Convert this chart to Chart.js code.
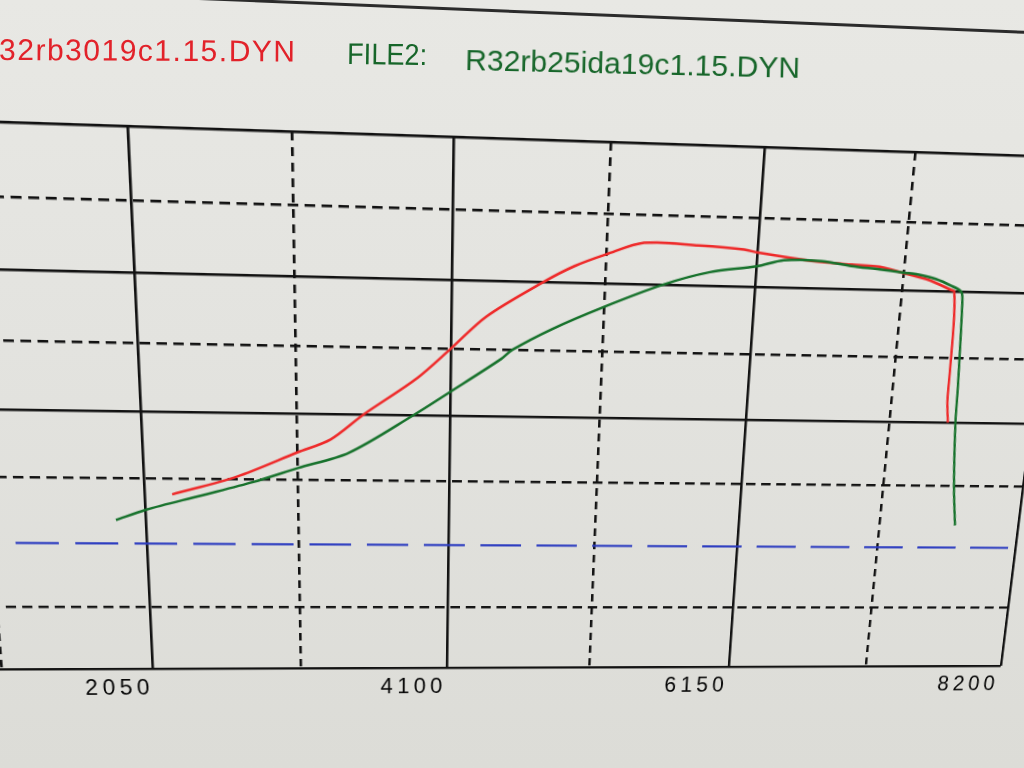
<!DOCTYPE html>
<html>
<head>
<meta charset="utf-8">
<script src="https://cdn.jsdelivr.net/npm/chart.js@4.4.1/dist/chart.umd.min.js"></script>
<style>
html,body{margin:0;padding:0;}
body{width:1024px;height:768px;overflow:hidden;position:relative;
  background:linear-gradient(180deg,#e8e8e4 0%,#e3e3df 45%,#dcdcd7 100%);
  font-family:"Liberation Sans","DejaVu Sans",Arial,sans-serif;}
#wrap{position:absolute;left:0;top:0;transform-origin:0 0;}
#wrap canvas{display:block;}
.hdr{position:absolute;white-space:nowrap;font-size:30px;line-height:30px;display:inline-block;}
#frame{position:absolute;left:150px;top:-5px;width:920px;height:3px;background:#2b2b2b;
  transform-origin:0 50%;transform:rotate(2.34deg);}
</style>
</head>
<body>
<div id="frame"></div>
<div id="wrap"><canvas id="c" width="1280" height="740"></canvas></div>
<div class="hdr" id="h1" style="color:#e2222a"></div>
<div class="hdr" id="h2" style="color:#17662a"></div>
<div class="hdr" id="h3" style="color:#17662a"></div>
<script>
// ---- data ----
const file1Name = '32rb3019c1.15.DYN';
const file2Label = 'FILE2:';
const file2Name = 'R32rb25ida19c1.15.DYN';

const rpmTickLabels = [2050, 4100, 6150, 8200];

const file1Rpm   = [2230, 2665, 3075, 3296, 3517, 3879, 4100, 4334, 4711, 4916, 5125, 5375, 5745, 6056, 6150, 6525, 6803, 7000, 7160, 7354, 7519, 7540, 7560, 7570, 7575, 7595];
const file1Power = [138, 152, 171, 181, 200, 228, 250, 274, 300, 312, 321, 330, 329, 327, 325, 320, 318, 317, 313, 308, 301, 300, 278, 240, 217, 200];

const file2Rpm   = [1850, 2050, 2412, 2774, 3075, 3417, 3852, 4100, 4439, 4514, 4781, 5125, 5516, 5833, 6150, 6334, 6595, 6803, 7000, 7175, 7270, 7400, 7520, 7590, 7605, 7640, 7650, 7690, 7730];
const file2Power = [118, 126, 137, 148, 159, 171, 200, 218, 243, 250, 266, 283, 300, 310, 315, 320, 320, 317, 315, 313, 312, 309, 304, 300, 293, 227, 200, 150, 118];

const refRpm   = [0, 8200];
const refValue = [100, 100];

const rpmMin = 0, rpmMax = 8200, rpmStep = 1025;
const valMin = 0, valMax = 400, valStep = 50;

// ---- build chart ----
const pts = (xs, ys) => xs.map((x, i) => ({x: x, y: ys[i]}));
const GRID = '#121212';
const NONE = 'rgba(0,0,0,0)';
const isMajorX = v => Math.round(v) % 2050 === 0;
const isSolidY = v => [0, 200, 300, 400].includes(Math.round(v));
const isDashY = v => [50, 150, 250, 350].includes(Math.round(v));

const spacingPlugin = {
  id: 'spacing',
  beforeDraw(chart) { try { chart.ctx.letterSpacing = '4.5px'; } catch (e) {} }
};

const chart = new Chart(document.getElementById('c'), {
  type: 'line',
  data: {
    datasets: [
      {label: 'ref', data: pts(refRpm, refValue), borderColor: '#2c3cc0', borderWidth: 2.2, borderDash: [42, 16], pointRadius: 0, xAxisID: 'x', yAxisID: 'y'},
      {label: 'FILE2', data: pts(file2Rpm, file2Power), borderColor: '#17722c', borderWidth: 2.5, pointRadius: 0, tension: 0.3, xAxisID: 'x', yAxisID: 'y'},
      {label: 'FILE1', data: pts(file1Rpm, file1Power), borderColor: '#ee2a2a', borderWidth: 2.5, pointRadius: 0, tension: 0.3, xAxisID: 'x', yAxisID: 'y'}
    ]
  },
  options: {
    responsive: false,
    devicePixelRatio: 1,
    animation: false,
    layout: {padding: {left: 30, right: 40, top: 140, bottom: 30}},
    plugins: {legend: {display: false}, tooltip: {enabled: false}, title: {display: false}},
    scales: {
      x: {
        type: 'linear', min: rpmMin, max: rpmMax, position: 'bottom',
        grid: {color: c => (c.tick && isMajorX(c.tick.value)) ? GRID : NONE, lineWidth: 2.6, drawTicks: false},
        border: {display: false},
        ticks: {
          stepSize: rpmStep, autoSkip: false, maxRotation: 0, minRotation: 0, align: 'end', padding: 7,
          color: '#050505', font: {family: '"Liberation Sans","DejaVu Sans",Arial,sans-serif', size: 23},
          callback: v => rpmTickLabels.includes(Math.round(v)) ? String(Math.round(v)) : ''
        }
      },
      x2: {
        type: 'linear', min: rpmMin, max: rpmMax, position: 'bottom',
        grid: {color: c => (c.tick && !isMajorX(c.tick.value)) ? GRID : NONE, lineWidth: 2.6, drawTicks: false},
        border: {display: false, dash: [8, 6]},
        ticks: {display: false, stepSize: rpmStep}
      },
      y: {
        type: 'linear', min: valMin, max: valMax, position: 'left',
        grid: {color: c => (c.tick && isSolidY(c.tick.value)) ? GRID : NONE, lineWidth: 2.6, drawTicks: false},
        border: {display: false},
        ticks: {display: false, stepSize: valStep}
      },
      y2: {
        type: 'linear', min: valMin, max: valMax, position: 'left',
        grid: {color: c => (c.tick && isDashY(c.tick.value)) ? GRID : NONE, lineWidth: 2.6, drawTicks: false},
        border: {display: false, dash: [10, 6]},
        ticks: {display: false, stepSize: valStep}
      }
    }
  },
  plugins: [spacingPlugin]
});

// ---- photo perspective: map rectified chart onto the photographed screen ----
function homography(src, dst) {
  const A = [], b = [];
  for (let i = 0; i < 4; i++) {
    const [x, y] = src[i], [u, v] = dst[i];
    A.push([x, y, 1, 0, 0, 0, -x * u, -y * u]); b.push(u);
    A.push([0, 0, 0, x, y, 1, -x * v, -y * v]); b.push(v);
  }
  const n = 8;
  for (let c = 0; c < n; c++) {
    let p = c;
    for (let r = c + 1; r < n; r++) if (Math.abs(A[r][c]) > Math.abs(A[p][c])) p = r;
    [A[c], A[p]] = [A[p], A[c]]; [b[c], b[p]] = [b[p], b[c]];
    for (let r = 0; r < n; r++) {
      if (r === c) continue;
      const f = A[r][c] / A[c][c];
      for (let k = c; k < n; k++) A[r][k] -= f * A[c][k];
      b[r] -= f * b[c];
    }
  }
  return b.map((v, i) => v / A[i][i]);
}
function applyPerspective() {
  const sx = chart.scales.x, sy = chart.scales.y;
  const src = [
    [sx.getPixelForValue(2050), sy.getPixelForValue(400)],
    [sx.getPixelForValue(6150), sy.getPixelForValue(400)],
    [sx.getPixelForValue(2050), sy.getPixelForValue(0)],
    [sx.getPixelForValue(6150), sy.getPixelForValue(0)]
  ];
  const dst = [[128, 126], [765, 147], [153, 669], [729, 667]];
  const h = homography(src, dst);
  document.getElementById('wrap').style.transform =
    'matrix3d(' + [h[0], h[3], 0, h[6], h[1], h[4], 0, h[7], 0, 0, 1, 0, h[2], h[5], 0, 1].join(',') + ')';
}
applyPerspective();

// ---- header texts ----
function placeHeader(id, text, left, baseline, width, rot) {
  const el = document.getElementById(id);
  el.textContent = text;
  el.style.left = left + 'px';
  el.style.top = (baseline - 25.4) + 'px';
  el.style.letterSpacing = '0px';
  const w = el.getBoundingClientRect().width;
  const n = text.length;
  let ls = (width - w) / (n - 1);
  let tf = '';
  if (ls < 0) { tf = ' scaleX(' + (width / w) + ')'; ls = 0; }
  el.style.letterSpacing = ls + 'px';
  el.style.transformOrigin = '0 25.4px';
  el.style.transform = 'rotate(' + rot + 'deg)' + tf;
}
placeHeader('h1', file1Name, -1, 60, 296, 0.3);
placeHeader('h2', file2Label, 347, 64, 80, 0.8);
placeHeader('h3', file2Name, 465, 70, 335, 1.35);
</script>
</body>
</html>
